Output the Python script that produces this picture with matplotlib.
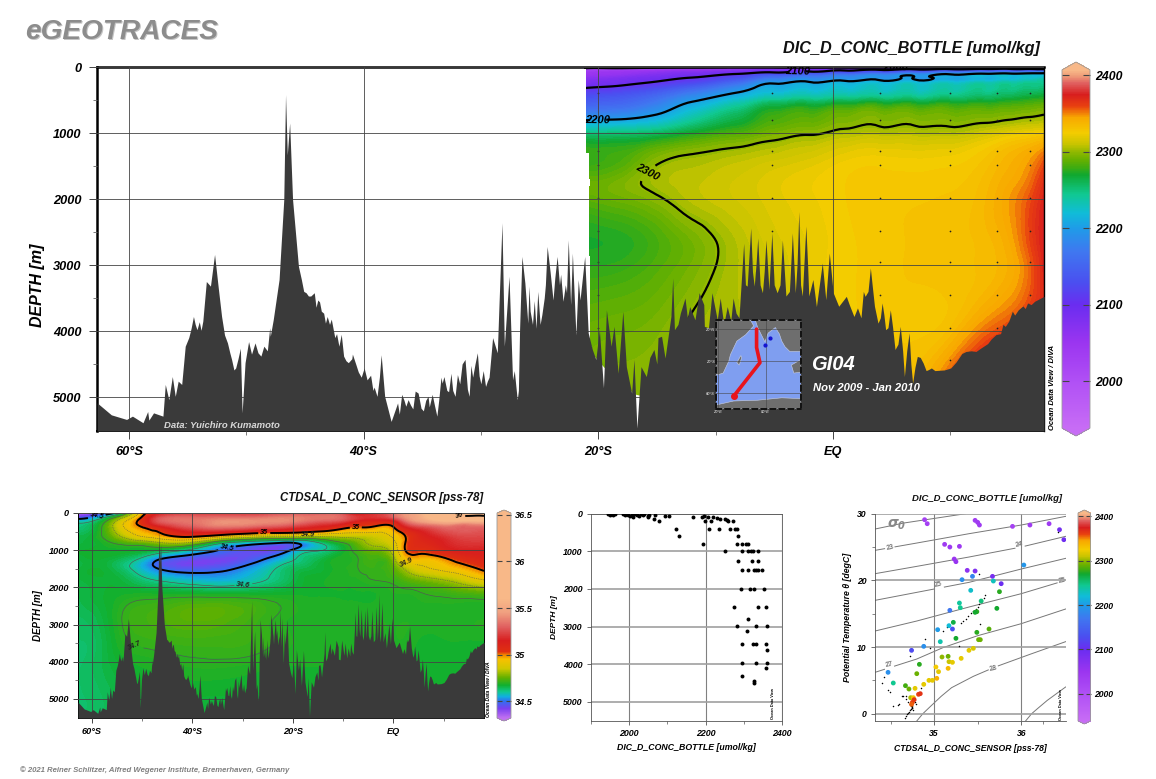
import matplotlib
matplotlib.use('Agg')
import matplotlib.pyplot as plt
import matplotlib.patheffects as pe
import matplotlib.tri as mtri
import numpy as np
from matplotlib.cm import ScalarMappable
from matplotlib.colors import LinearSegmentedColormap, Normalize
from matplotlib.patches import Polygon

W, H = 1156, 779

plt.rcParams['font.family'] = ['Liberation Sans', 'DejaVu Sans']
plt.rcParams['font.weight'] = 'bold'
plt.rcParams['font.style'] = 'italic'
plt.rcParams['axes.labelweight'] = 'bold'
plt.rcParams['mathtext.fontset'] = 'dejavusans'

# bottom topography along the section
bathy_lat = [-62.7, -61.5, -60.2, -59.7, -58.8, -58.4, -58.3, -57.9, -57.1, -56.9, -56.6, -56.3, -56.05, -55.8, -55.5,
             -55.2, -54.9, -54.5, -54.2, -53.7, -53.4, -53.05, -52.7, -52.4, -52.1, -51.6, -51.25, -50.9, -50.5, -50.35,
             -50.1, -49.8, -49.0, -48.5, -47.7, -47.2, -46.8, -46.65, -46.5, -46.3, -46.05, -45.55, -44.9, -43.9, -43.4,
             -42.9, -42.1, -41.3, -40.65, -39.7, -38.85, -38.5, -38.2, -37.65, -37.1, -36.75, -36.4, -35.6, -35.1, -34.15,
             -33.75, -33.15, -32.55, -32.2, -31.35, -31.0, -30.3, -29.6, -29.0, -28.6, -28.45, -28.2, -28.0, -27.6, -27.3,
             -26.9, -26.7, -26.5, -26.25, -26.0, -25.9, -25.6, -25.15, -24.95, -24.35, -23.85, -23.5, -23.0, -22.55, -22.2,
             -21.9, -21.55, -21.15, -20.85, -20.5, -20.2, -19.9, -19.55, -19.3, -18.9, -18.65, -18.3, -17.9, -17.6, -17.15,
             -16.95, -16.7, -16.35, -15.9, -15.25, -14.6, -14.3, -13.8, -13.65, -13.5, -13.0, -12.2, -11.75, -11.4, -10.95,
             -10.3, -9.85, -9.0, -8.25, -7.6, -7.3, -7.0, -6.7, -6.4, -6.0, -5.7, -5.45, -5.2, -4.75, -4.3,
             -4.0, -3.45, -3.2, -2.9, -2.6, -2.3, -2.05, -1.7, -1.4, -0.9, -0.6, -0.3, 0.03, 0.5, 1.15,
             1.8, 2.75, 3.2, 3.55, 3.85, 4.2, 4.5, 4.9, 5.3, 5.75, 6.1, 6.5, 6.8, 7.2, 7.7,
             8.15, 9.1, 10.05, 11.35, 12.6, 13.9, 14.7, 15.3, 15.8, 16.6, 17.2, 18.0]
bathy_depth = [5090, 5270, 5340, 5290, 5390, 5220, 5350, 5240, 5290, 4810, 5040, 4690, 4990, 4760, 4810,
               4230, 4100, 3780, 3980, 3850, 3250, 3320, 2840, 3320, 3780, 4180, 4430, 4560, 4260, 5240,
               4480, 4160, 4330, 4230, 3830, 3220, 2010, 420, 1330, 850, 2010, 3020, 3420, 3530, 3730,
               3900, 4230, 4480, 4510, 4740, 4990, 4360, 4990, 5370, 5090, 4960, 5140, 4910, 5170, 4960,
               5290, 4690, 4640, 4990, 4430, 4990, 4330, 4840, 4100, 4330, 3580, 2360, 4230, 3170, 4740,
               5040, 3980, 2870, 3270, 3880, 3320, 3900, 3400, 3900, 2720, 3530, 2870, 3550, 2620, 2820,
               4060, 3530, 2870, 4030, 4280, 4430, 3980, 4860, 3680, 4230, 3930, 4640, 3700, 4540, 4940,
               4430, 5470, 4540, 4690, 4280, 4080, 4410, 3780, 3200, 3980, 3730, 3630, 3830, 3420, 3930,
               3420, 3830, 3630, 3730, 2670, 3320, 2440, 3320, 2590, 3420, 2620, 3370, 2515, 3420, 2620,
               3470, 2515, 3420, 2190, 3470, 2410, 3470, 3220, 3630, 2970, 3525, 2820, 3420, 3625, 3475,
               3780, 3475, 3045, 3625, 3880, 3575, 3980, 3680, 4280, 3930, 4690, 4030, 4790, 4385, 4485,
               4585, 4595, 4560, 4310, 4260, 4055, 3930, 3700, 3680, 3575, 3550, 3475]
# finer jags picked off the rough stretches
jag_lat = [-48.2, -48.0, -44.5, -44.2, -43.6, -43.1, -42.6, -42.3, -41.7, -41.0, -40.2, -39.4, -39.1,
           -36.0, -34.7, -34.4, -33.4, -32.9, -32.4, -31.8, -31.6, -30.7, -30.5, -30.0, -29.8, -29.3,
           -25.8, -24.6, -24.1, -23.7, -23.3, -22.8, -22.35,
           -15.6, -15.0, -14.9, -13.2, -12.6, -12.4, -11.0, -10.6, -9.6, -9.3, -8.7, -8.5, -8.0,
           -7.45, -6.85, -6.55, -6.2, -5.85, -5.0, -4.5, -3.7, -3.05, -2.75, -2.15,
           1.4, 2.1, 2.4, 2.6, 3.0, 3.35, 4.05, 4.35, 4.7, 5.1, 5.55, 5.95, 6.3, 6.65, 7.0, 7.45, 7.95, 8.4, 8.7, 9.5,
           10.5, 11.0, 11.8, 12.2, 13.2, 13.5, 14.3, 14.5, 15.0, 15.5, 16.2, 16.4, 16.9,
           -54.7, -54.35, -54.0, -53.85, -51.85, -51.4, -51.05, -50.7, -49.55, -49.25, -48.75, -47.95,
           -45.3, -45.1, -44.7, -44.05, -43.75, -43.25, -42.75, -42.45, -41.9, -41.5, -40.95, -40.45, -39.95, -39.2, -38.65,
           -36.95, -36.55, -36.2, -35.8, -35.35, -34.9, -34.5, -33.95, -33.6, -33.3, -32.75, -32.0, -31.15, -30.85, -30.15, -29.45,
           -27.15, -26.8, -25.45, -25.3, -24.8, -24.5, -23.2, -22.7, -21.7]
jag_depth = [4300, 3950, 3470, 3420, 3700, 3780, 3960, 4040, 4380, 4420, 4700, 4670, 4850,
             5120, 5050, 5150, 4700, 4900, 4900, 4800, 4500, 4700, 4500, 4800, 4600, 4700,
             3700, 3500, 3100, 3200, 3300, 3300, 3600,
             4400, 4500, 4100, 3900, 3500, 3800, 3600, 3950, 3500, 3900, 3850, 3500, 3800,
             3300, 3100, 3000, 3300, 3100, 3300, 3300, 3400, 3000, 3300, 3000,
             3600, 3650, 3800, 3400, 3400, 3300, 3800, 3750, 3950, 3950, 4200, 4300, 4300, 4500, 4550, 4400, 4600, 4560, 4600, 4590,
             4470, 4340, 4300, 4310, 4190, 4120, 4040, 3900, 3850, 3760, 3620, 3660, 3600,
             3960, 3900, 3860, 3990, 4060, 4330, 4590, 4420, 4350, 4180, 4380, 4080,
             3220, 3400, 3470, 3640, 3560, 3880, 3820, 4100, 4050, 4450, 4350, 4620, 4560, 4900, 4700,
             5260, 5050, 5040, 5180, 4940, 5210, 4990, 5130, 5060, 4790, 4920, 4660, 4880, 4520, 4680, 4760,
             4600, 4900, 3540, 3960, 3750, 3300, 3140, 3420, 3220]

# DIC section, one list per latitude, same depths each
dic_depth = [0, 20, 60, 100, 160, 220, 320, 500, 800, 1000, 1400, 1700, 2000, 2600, 3000, 3500, 4000, 4500, 5000, 5515]
dic_lat = [-21.2, -18, -15, -12, -8, -5, -2, 1, 4, 7, 10, 13, 15, 16.8, 18]
dic_values = [
    [1990, 2000, 2030, 2045, 2060, 2075, 2100, 2135, 2198, 2250, 2278, 2288, 2286, 2272, 2275, 2284, 2290, 2293, 2295, 2295],
    [1990, 2002, 2040, 2055, 2075, 2088, 2110, 2145, 2202, 2250, 2282, 2293, 2291, 2274, 2277, 2286, 2292, 2296, 2298, 2298],
    [1990, 2010, 2050, 2070, 2088, 2100, 2125, 2165, 2215, 2256, 2297, 2304, 2298, 2282, 2284, 2290, 2295, 2298, 2300, 2300],
    [1995, 2020, 2062, 2082, 2100, 2115, 2148, 2195, 2240, 2270, 2303, 2308, 2307, 2293, 2293, 2298, 2302, 2304, 2306, 2306],
    [2000, 2030, 2075, 2098, 2125, 2150, 2185, 2225, 2265, 2283, 2308, 2313, 2313, 2307, 2306, 2306, 2306, 2308, 2310, 2310],
    [2000, 2040, 2085, 2115, 2160, 2190, 2210, 2245, 2282, 2293, 2312, 2318, 2318, 2315, 2313, 2312, 2312, 2314, 2315, 2315],
    [1995, 2050, 2095, 2130, 2175, 2198, 2216, 2250, 2287, 2298, 2316, 2322, 2322, 2320, 2320, 2320, 2320, 2320, 2320, 2320],
    [1995, 2055, 2105, 2145, 2185, 2204, 2222, 2255, 2294, 2304, 2322, 2326, 2326, 2325, 2325, 2325, 2325, 2325, 2325, 2325],
    [1995, 2060, 2115, 2160, 2192, 2208, 2226, 2258, 2296, 2306, 2324, 2327, 2328, 2328, 2328, 2328, 2328, 2330, 2332, 2332],
    [2000, 2070, 2125, 2175, 2198, 2212, 2230, 2258, 2296, 2306, 2323, 2327, 2329, 2330, 2330, 2329, 2329, 2332, 2336, 2336],
    [2005, 2075, 2135, 2190, 2205, 2218, 2236, 2262, 2295, 2306, 2324, 2328, 2330, 2331, 2331, 2330, 2334, 2350, 2362, 2362],
    [2015, 2080, 2140, 2198, 2212, 2225, 2242, 2265, 2297, 2312, 2330, 2334, 2336, 2335, 2334, 2338, 2353, 2372, 2380, 2380],
    [2025, 2085, 2140, 2202, 2218, 2232, 2247, 2270, 2300, 2318, 2338, 2342, 2346, 2343, 2340, 2346, 2362, 2380, 2380, 2380],
    [2035, 2085, 2140, 2205, 2222, 2238, 2250, 2275, 2303, 2322, 2346, 2352, 2358, 2360, 2355, 2358, 2372, 2380, 2380, 2380],
    [2045, 2085, 2140, 2205, 2225, 2240, 2252, 2278, 2305, 2325, 2356, 2366, 2372, 2375, 2372, 2370, 2378, 2380, 2380, 2380],
]

# edges of the gridded DIC field, white beyond them
edge_depth = [0, 25, 1300, 1700, 1800, 2870, 4230, 5515]
edge_lat = [-21.2, -21.0, -20.8, -20.7, -20.8, -20.7, -20.5, -20.5]
floor_lat = [-21.0, -20.5, -19.5, -18.0, -17.0, -15.8, -14.0]
floor_depth = [4300, 4350, 4550, 4750, 4950, 5000, 5000]

station_lat = [-20, -5.2, 4, 10, 14, 16.8]
station_depth = [395, 800, 1280, 1490, 1985, 2480, 2955, 3460, 3955, 4435]

# salinity section, one list per depth
sal_depth = [0, 100, 200, 400, 600, 800, 1000, 1250, 1500, 1800, 2200, 2800, 3500, 4200, 5000, 5515]
sal_lat = [-62.7, -58, -54, -50, -46, -40, -34, -28, -22, -18, -14, -10, -7, -4, 0, 2, 5, 10, 14, 18]
sal_values = [
    [34.35, 34.40, 34.60, 34.95, 35.15, 35.20, 35.20, 35.20, 35.25, 35.25, 35.25, 35.20, 35.05, 35.15, 35.30, 35.40, 35.50, 35.90, 36.05, 36.00],
    [34.42, 34.55, 34.75, 35.00, 35.25, 35.30, 35.30, 35.30, 35.35, 35.35, 35.35, 35.30, 35.20, 35.20, 35.30, 35.40, 35.50, 35.80, 35.95, 35.95],
    [34.55, 34.65, 34.85, 35.05, 35.30, 35.35, 35.40, 35.40, 35.40, 35.35, 35.30, 35.25, 35.15, 35.12, 35.15, 35.30, 35.45, 35.60, 35.60, 35.60],
    [34.62, 34.70, 34.88, 34.99, 35.10, 35.25, 35.30, 35.25, 35.20, 35.15, 35.10, 35.02, 34.99, 34.98, 34.99, 35.10, 35.20, 35.30, 35.30, 35.30],
    [34.65, 34.70, 34.82, 34.92, 34.98, 35.05, 34.98, 34.90, 34.88, 34.86, 34.85, 34.85, 34.85, 34.86, 34.92, 34.99, 35.10, 35.20, 35.25, 35.25],
    [34.66, 34.68, 34.72, 34.75, 34.80, 34.78, 34.62, 34.55, 34.50, 34.53, 34.62, 34.70, 34.76, 34.82, 34.88, 34.98, 35.08, 35.15, 35.20, 35.20],
    [34.67, 34.68, 34.68, 34.67, 34.65, 34.58, 34.49, 34.44, 34.46, 34.56, 34.60, 34.67, 34.72, 34.76, 34.84, 34.98, 35.04, 35.10, 35.15, 35.15],
    [34.66, 34.67, 34.64, 34.58, 34.49, 34.44, 34.43, 34.47, 34.56, 34.62, 34.66, 34.69, 34.70, 34.72, 34.78, 34.91, 34.95, 34.98, 35.05, 35.10],
    [34.66, 34.67, 34.63, 34.56, 34.49, 34.46, 34.48, 34.54, 34.62, 34.65, 34.67, 34.69, 34.70, 34.71, 34.74, 34.80, 34.87, 34.92, 34.96, 35.02],
    [34.66, 34.67, 34.66, 34.62, 34.59, 34.56, 34.55, 34.58, 34.63, 34.67, 34.68, 34.69, 34.69, 34.70, 34.71, 34.73, 34.76, 34.80, 34.85, 34.90],
    [34.65, 34.67, 34.68, 34.685, 34.685, 34.685, 34.68, 34.68, 34.68, 34.68, 34.68, 34.68, 34.68, 34.68, 34.69, 34.69, 34.695, 34.705, 34.715, 34.725],
    [34.64, 34.66, 34.70, 34.72, 34.73, 34.745, 34.74, 34.72, 34.695, 34.69, 34.69, 34.69, 34.69, 34.69, 34.69, 34.69, 34.69, 34.69, 34.69, 34.69],
    [34.63, 34.65, 34.69, 34.705, 34.71, 34.715, 34.715, 34.71, 34.695, 34.69, 34.69, 34.69, 34.69, 34.69, 34.69, 34.69, 34.68, 34.68, 34.68, 34.68],
    [34.63, 34.65, 34.67, 34.68, 34.685, 34.69, 34.69, 34.685, 34.68, 34.68, 34.68, 34.68, 34.68, 34.68, 34.68, 34.68, 34.68, 34.68, 34.68, 34.68],
    [34.63, 34.64, 34.66, 34.67, 34.67, 34.67, 34.67, 34.67, 34.67, 34.67, 34.67, 34.67, 34.67, 34.67, 34.67, 34.67, 34.67, 34.67, 34.67, 34.67],
    [34.63, 34.64, 34.65, 34.66, 34.66, 34.66, 34.66, 34.66, 34.66, 34.66, 34.66, 34.66, 34.66, 34.66, 34.66, 34.66, 34.66, 34.66, 34.66, 34.66],
]

# DIC against depth
bottle_dic = [1945, 1950, 1958, 1962, 1985, 1990, 1998, 2003, 2007, 2010, 2015, 2020, 2025, 2030, 2035, 2040, 2048, 2050,
              2052, 2065, 2068, 2078, 2095, 2103, 2168, 2190, 2195, 2198, 2205, 2210, 2215, 2220, 2230, 2235, 2238, 2250,
              2255, 2258, 2265, 2272, 2278, 2282, 2122, 2130, 2192, 2250, 2285, 2282, 2295, 2305, 2310, 2295, 2310, 2320,
              2325, 2337, 2285, 2322, 2338, 2294, 2310, 2326, 2332, 2338, 2347, 2292, 2316, 2327, 2352, 2274, 2336, 2357,
              2310, 2282, 2333, 2361, 2308, 2294, 2325, 2332, 2357, 2361, 2294, 2331, 2361, 2358, 2295, 2328, 2328]
bottle_depth = [10, 25, 30, 5, 15, 30, 40, 60, 40, 90, 20, 30, 50, 20, 40, 10, 50, 100,
                30, 140, 40, 200, 50, 50, 100, 90, 70, 190, 100, 400, 190, 100, 120, 400, 130, 150,
                160, 200, 400, 200, 400, 400, 400, 600, 800, 1000, 600, 800, 800, 800, 800, 1000, 1000, 1000,
                1000, 1000, 1250, 1250, 1250, 1500, 1500, 1500, 1500, 1500, 1500, 2000, 2000, 2000, 2000, 2490, 2490, 2490,
                2790, 2990, 2990, 2990, 3130, 3460, 3470, 3460, 3460, 3630, 3960, 3970, 3960, 4090, 4320, 4440, 4500]

# theta-S points coloured by DIC
ts_sal = [34.89, 34.92, 35.47, 35.50, 35.52, 35.90, 36.10, 36.32, 36.44, 36.49, 35.12, 35.18, 35.29, 35.23, 35.25, 35.38,
          35.47, 35.44, 35.32, 35.67, 35.68, 35.77, 36.03, 35.42, 35.75, 35.29, 35.30, 35.54, 35.72, 35.18, 35.49, 35.47,
          35.22, 35.17, 35.21, 35.04, 35.63, 35.49, 35.07, 35.25, 35.51, 35.53, 34.74, 34.88, 35.40, 35.45, 35.09, 35.16,
          35.17, 35.21, 35.31, 34.83, 35.02, 35.05, 35.16, 34.80, 34.47, 35.03, 34.94, 34.98, 34.53, 34.88, 34.67, 34.71,
          34.78, 34.82, 34.84, 34.73, 34.76, 34.77, 34.75, 34.74]
ts_theta = [29.1, 28.5, 29.0, 28.7, 28.3, 28.1, 28.3, 28.5, 27.6, 26.1, 25.4, 25.0, 25.1, 23.2, 22.8, 21.5,
            21.4, 20.6, 20.1, 20.6, 19.9, 19.5, 22.3, 18.5, 18.3, 16.6, 15.9, 16.9, 15.8, 15.5, 15.3, 15.2,
            13.7, 13.2, 12.7, 12.6, 12.7, 12.2, 10.8, 11.3, 11.1, 11.1, 9.5, 10.1, 9.5, 9.8, 8.5, 8.6,
            7.8, 7.7, 8.3, 7.4, 7.0, 6.3, 6.8, 6.0, 6.2, 5.3, 5.0, 5.0, 4.6, 4.4, 4.2, 3.7,
            3.8, 2.9, 3.0, 2.4, 2.4, 2.1, 1.7, 1.4]
ts_dic = [2030, 2030, 2035, 2040, 2040, 2025, 2040, 2040, 2090, 2095, 2040, 2045, 2045, 2050, 2055, 2065,
          2080, 2180, 2190, 2085, 2230, 2100, 2195, 2225, 2275, 2240, 2245, 2250, 2270, 2170, 2275, 2270,
          2265, 2220, 2130, 2200, 2285, 2275, 2235, 2270, 2290, 2290, 2125, 2190, 2320, 2315, 2300, 2290,
          2310, 2320, 2320, 2275, 2325, 2320, 2335, 2290, 2190, 2340, 2320, 2320, 2245, 2320, 2280, 2290,
          2320, 2360, 2365, 2305, 2330, 2365, 2360, 2355]

# theta-S samples without DIC
dots_sal = [34.42, 34.40, 34.47, 34.49, 34.53, 34.58, 34.60, 34.63, 34.68, 34.72, 34.75, 34.85, 34.90, 34.95, 35.10, 35.15,
            35.28, 35.31, 35.33, 35.36, 35.39, 35.42, 35.45, 35.48, 35.50, 35.52, 35.54, 35.57, 35.58, 35.52, 35.53, 36.42,
            34.64, 34.68, 34.70, 34.72, 34.73, 34.74, 34.75, 34.76, 34.77, 34.78, 34.79,
            34.67, 34.68, 34.69, 34.70, 34.71, 34.72, 34.73, 34.74, 34.75]
dots_theta = [5.5, 4.6, 3.6, 3.3, 1.1, 1.3, 1.4, 2.7, 2.6, 8.6, 9.6, 3.9, 11.2, 9.9, 12.4, 13.0,
              10.2, 13.6, 13.9, 14.2, 14.6, 15.1, 15.4, 15.7, 16.0, 16.4, 16.8, 17.3, 17.8, 21.0, 13.4, 27.3,
              2.6, 2.2, 1.8, 1.5, 1.2, 1.0, 0.8, 0.6, 2.0, 1.7, 1.5,
              -0.6, -0.4, -0.1, 0.1, 0.3, 0.5, 0.7, 0.9, 1.1]

# isopycnals
iso_sal = [[34.32, 34.65, 35.36],
           [34.32, 34.80, 35.40, 36.00, 36.51],
           [34.32, 34.80, 35.40, 36.00, 36.51],
           [34.32, 34.80, 35.40, 36.00, 36.51],
           [34.32, 34.80, 35.40, 36.00, 36.51],
           [34.32, 34.80, 35.10, 35.50, 36.00, 36.51],
           [34.80, 34.87, 34.95, 35.08, 35.20, 35.45, 35.70, 36.10, 36.51],
           [36.05, 36.12, 36.20, 36.30, 36.51]]
iso_theta = [[27.7, 28.6, 30.0],
             [24.5, 25.6, 27.0, 28.3, 29.6],
             [21.0, 22.1, 23.5, 25.0, 26.6],
             [17.0, 18.2, 19.7, 21.7, 23.3],
             [12.4, 13.9, 16.0, 18.0, 20.0],
             [6.2, 8.2, 9.9, 11.7, 13.5, 15.7],
             [-1.1, 0.0, 1.0, 2.6, 3.9, 5.6, 7.0, 8.9, 10.8],
             [-1.1, 0.0, 0.9, 2.0, 4.0]]
iso_label = ['23', '24', '25', '25', '27', '28']
iso_label_sal = [34.49, 35.98, 35.05, 36.47, 34.48, 35.68]
iso_label_theta = [24.9, 25.4, 19.3, 19.9, 7.3, 6.8]

# colour ramps
dic_cmap_values = [1939, 2000, 2050, 2100, 2130, 2170, 2200, 2220, 2245, 2270, 2280, 2290, 2300, 2310, 2325, 2345, 2360, 2375, 2390, 2400, 2407]
dic_cmap_colors = ['#c76cf5', '#b050f5', '#9b35f0', '#6a2df0', '#4a50f0', '#3f78f0', '#1f9be8', '#10bcd8', '#10c890',
                   '#10a830', '#40ac10', '#68b000', '#90b800', '#c8c400', '#f4cc00', '#f8a800', '#e84010', '#d81e1e',
                   '#e06060', '#f0a07a', '#f8b888']
sal_cmap_values = [34.32, 34.42, 34.5, 34.55, 34.6, 34.67, 34.75, 34.85, 34.95, 35.0, 35.03, 35.15, 35.3, 35.45, 35.6, 36.52]
sal_cmap_colors = ['#c070f0', '#7a40f0', '#3070f0', '#10b0e0', '#10c890', '#10b030', '#60b000', '#d0c800', '#f8c000',
                   '#f08000', '#e03010', '#d81e1e', '#e06060', '#f0a080', '#f8b888', '#f8b888']

# inset map outlines
map_track_lon = [68.6, 68.6, 72.8, 40.0]
map_track_lat = [20, -3, -22, -64]
map_dots_lon = [85, 79]
map_dots_lat = [8.6, 0]
map_land = [
    [(18, 31.4), (61, 31.4), (65, 24), (55, 13), (44, 5), (36, -12), (34, -20), (27, -35), (21, -37), (18, -37)],
    [(67, 31.4), (70, 22), (79, 4), (83, 15), (92, 22), (97, 14), (100, 5), (104, -2), (110, -8), (124, -8), (124, 31.4)],
    [(124, -18), (112, -25), (115, -35), (124, -34)],
    [(18, -75), (40, -70), (70, -69), (100, -66), (124, -67), (124, -80), (18, -80)],
    [(49, -13), (50, -16), (47, -25), (44, -22)],
]


def make_cmap(values, colors):
    lo, hi = values[0], values[-1]
    stops = [(v - lo) / (hi - lo) for v in values]
    return LinearSegmentedColormap.from_list('odv', list(zip(stops, colors)), N=512)


def box(x0, y0, x1, y1):
    return [x0 / W, 1 - y1 / H, (x1 - x0) / W, (y1 - y0) / H]


def smooth_grid(lat, depth, grid):
    # grid cells cut in two, then matplotlib's own refiner
    x, y = np.meshgrid(lat, depth)
    nx = len(lat)
    cells = []
    for j in range(len(depth) - 1):
        for i in range(nx - 1):
            a = j * nx + i
            cells.append([a, a + 1, a + nx])
            cells.append([a + 1, a + nx + 1, a + nx])
    tris = mtri.Triangulation(x.ravel(), y.ravel(), cells)
    return mtri.UniformTriRefiner(tris).refine_field(grid.ravel(), subdiv=3)


def section_axes(ax, size, lw_grid):
    ax.set_xlim(-62.72, 18)
    ax.set_ylim(5515, 0)
    ax.set_xticks([-60, -40, -20, 0])
    ax.set_xticklabels(['60°S', '40°S', '20°S', 'EQ'], fontsize=size)
    ax.set_xticks([-50, -30, -10, 10], minor=True)
    ax.set_yticks([0, 1000, 2000, 3000, 4000, 5000])
    ax.set_yticks([500, 1500, 2500, 3500, 4500], minor=True)
    ax.tick_params(axis='both', labelsize=size, length=6, width=0.7, color='#444444', pad=5)
    ax.tick_params(axis='both', which='minor', length=3, width=0.6, color='#666666')
    ax.grid(True, color='#444444', lw=lw_grid, zorder=4)
    ax.set_axisbelow(False)


def colorbar(box_px, cmap, lo, hi, ticks, labels, size, frac):
    cax = fig.add_axes(box(*box_px))
    cb = fig.colorbar(ScalarMappable(Normalize(lo, hi), cmap), cax=cax, extend='both', extendfrac=frac)
    cb.set_ticks(ticks)
    cb.set_ticklabels(labels)
    cb.outline.set_edgecolor('#999999')
    cb.outline.set_linewidth(0.6)
    cax.tick_params(axis='y', left=True, right=True, direction='in', length=size * 0.6, width=0.8,
                    color='#444444', labelsize=size, pad=size * 0.4)
    return cb


fig = plt.figure(figsize=(W / 100, H / 100), dpi=100, facecolor='white')

fig.text(26.5 / W, 1 - 40.5 / H, 'eGEOTRACES', fontsize=20.2, color='#c4c4c4')
fig.text(25 / W, 1 - 39 / H, 'eGEOTRACES', fontsize=20.2, color='#8c8c8c')
fig.text(20 / W, 1 - 772 / H, '© 2021 Reiner Schlitzer, Alfred Wegener Institute, Bremerhaven, Germany',
         fontsize=5.55, color='#808080')

# main DIC section
dic_cmap = make_cmap(dic_cmap_values, dic_cmap_colors)
dic_tri, dic_fine = smooth_grid(dic_lat, dic_depth, np.array(dic_values).T)
ax = fig.add_axes(box(97, 67, 1044, 431))
ax.tricontourf(dic_tri, dic_fine, levels=np.linspace(1939, 2407, 140), cmap=dic_cmap, extend='both', zorder=1)
cs = ax.tricontour(dic_tri, dic_fine, levels=[2000, 2100, 2200, 2300], colors='black', linewidths=1.6, zorder=1.4)
ax.clabel(cs, fmt='%d', fontsize=8, colors='black', inline_spacing=4,
          manual=[(5.4, 15), (-3, 75), (-20.0, 800), (-16, 1430)])
st_x, st_y = np.meshgrid(station_lat, station_depth)
ax.scatter(st_x.ravel(), st_y.ravel(), s=1.5, color='#222222', lw=0, zorder=1.5)
ax.fill_betweenx(edge_depth, -63, edge_lat, color='white', lw=0, step='post', zorder=2)
ax.fill_between(floor_lat, floor_depth, 5515, color='white', lw=0, zorder=2)
order = np.argsort(bathy_lat + jag_lat)
bathy_x = np.array(bathy_lat + jag_lat)[order]
bathy_y = np.array(bathy_depth + jag_depth)[order]
ax.fill_between(bathy_x, bathy_y, 5515, color='#3a3a3a', lw=0, zorder=3)
section_axes(ax, 9.2, 0.6)
ax.set_ylabel('DEPTH [m]', fontsize=11.5)
ax.yaxis.set_label_coords(-0.055, 0.40)
for side in ['left', 'top']:
    ax.spines[side].set_linewidth(1.8)
ax.spines['right'].set_linewidth(1.0)
ax.spines['bottom'].set_linewidth(1.4)
fig.text(1040 / W, 1 - 53 / H, 'DIC_D_CONC_BOTTLE [umol/kg]', fontsize=11.7, ha='right', color='#111111')
ax.text(-57, 5430, 'Data: Yuichiro Kumamoto', fontsize=6.8, color='#d8d8d8', va='center', zorder=5)
ax.text(-1.9, 4510, 'GI04', fontsize=14.5, color='white', va='center', zorder=5)
ax.text(-1.7, 4870, 'Nov 2009 - Jan 2010', fontsize=8.1, color='white', va='center', zorder=5)
fig.text(1052 / W, 1 - 430 / H, 'Ocean Data View / DIVA', fontsize=5.5, rotation=90, ha='center', va='bottom')
colorbar((1062, 62, 1090, 436), dic_cmap, 1939, 2407, [2000, 2100, 2200, 2300, 2400],
         ['2000', '2100', '2200', '2300', '2400'], 8.8, 0.022)

# inset map
inset = fig.add_axes(box(716, 320, 801, 409))
inset.set_facecolor('#7f9ef0')
inset.set_xlim(18, 124)
inset.set_ylim(-80, 31.4)
for pts in map_land:
    inset.add_patch(Polygon(pts, closed=True, facecolor='#6e6e6e', edgecolor='#c8d0e8', lw=0.4))
inset.plot(map_track_lon, map_track_lat, color='#e8141c', lw=2.6, solid_capstyle='round')
inset.plot(map_track_lon[-1], map_track_lat[-1], 'o', color='#e8141c', ms=4)
inset.plot(map_dots_lon, map_dots_lat, 'o', color='#1414d0', ms=2)
inset.grid(True, color='#444444', lw=0.4)
inset.set_xticks([20, 80])
inset.set_xticklabels(['20°E', '80°E'], fontsize=3, color='#bbbbbb')
inset.set_yticks([-60, -20, 20])
inset.set_yticklabels(['60°S', '20°S', '20°N'], fontsize=3, color='#bbbbbb')
inset.tick_params(length=0, pad=1)
for side in inset.spines.values():
    side.set_edgecolor('black')
    side.set_linewidth(1.3)
    side.set_linestyle((0, (3, 2)))
    side.set_path_effects([pe.Stroke(linewidth=1.3, foreground='#dddddd'), pe.Normal()])

# salinity section
sal_cmap = make_cmap(sal_cmap_values, sal_cmap_colors)
sal_tri, sal_fine = smooth_grid(sal_lat, sal_depth, np.array(sal_values))
ax2 = fig.add_axes(box(78, 513, 484, 718))
ax2.tricontourf(sal_tri, sal_fine, levels=np.linspace(34.32, 36.52, 220), cmap=sal_cmap, extend='both', zorder=1)
thick = ax2.tricontour(sal_tri, sal_fine, levels=[34.5, 35, 36], colors='black', linewidths=1.4, zorder=1.4)
thin = ax2.tricontour(sal_tri, sal_fine, levels=[34.6, 34.7], colors='#555555', linewidths=0.45, zorder=1.4)
dots = ax2.tricontour(sal_tri, sal_fine, levels=[34.8, 34.9], colors='#555555', linewidths=0.5,
                      linestyles=':', zorder=1.4)
ax2.clabel(thick, fmt='%g', fontsize=5.2, colors='black', inline_spacing=2,
           manual=[(-59, 80), (-33, 1030), (-25.7, 480), (-7.5, 25), (13, 130)])
ax2.clabel(thin, fmt='%g', fontsize=5.2, colors='#222222', inline_spacing=2, manual=[(-30, 1630), (-51.5, 3600)])
ax2.clabel(dots, fmt='%g', fontsize=5.2, colors='#222222', inline_spacing=2, manual=[(-17, 550), (2.7, 1320)])
ax2.fill_between(bathy_x, bathy_y, 5515, color='#3a3a3a', lw=0, zorder=3)
section_axes(ax2, 6.6, 0.6)
ax2.tick_params(axis='both', length=3.5, pad=3)
ax2.tick_params(axis='both', which='minor', length=2)
ax2.set_ylabel('DEPTH [m]', fontsize=7)
ax2.yaxis.set_label_coords(-0.085, 0.5)
for side in ax2.spines.values():
    side.set_linewidth(0.7)
ax2.spines['top'].set_color('#666666')
fig.text(483 / W, 1 - 501 / H, 'CTDSAL_D_CONC_SENSOR [pss-78]', fontsize=8.3, ha='right', color='#111111')
fig.text(488.5 / W, 1 - 717 / H, 'Ocean Data View / DIVA', fontsize=3.6, rotation=90, ha='center', va='bottom')
colorbar((497, 510, 511, 721), sal_cmap, 34.32, 36.52, [34.5, 35, 35.5, 36, 36.5],
         ['34.5', '35', '35.5', '36', '36.5'], 6.6, 0.015)

# DIC against depth
ax3 = fig.add_axes(box(591, 513.7, 782, 720.6))
ax3.scatter(bottle_dic, bottle_depth, s=8, color='black', lw=0, zorder=3)
ax3.set_xlim(1900, 2400)
ax3.set_ylim(5500, 0)
ax3.set_xticks([2000, 2200, 2400])
ax3.set_xticks([1900, 2100, 2300], minor=True)
ax3.set_yticks([0, 1000, 2000, 3000, 4000, 5000])
ax3.tick_params(axis='both', labelsize=6.4, length=3, width=0.6, pad=3, color='#555555')
ax3.tick_params(axis='x', which='minor', length=2, width=0.5, color='#555555')
ax3.grid(True, axis='y', color='#a0a0a0', lw=1.2, zorder=1)
ax3.grid(True, axis='x', color='#808080', lw=0.8, zorder=1)
ax3.set_xlabel('DIC_D_CONC_BOTTLE [umol/kg]', fontsize=6.3, labelpad=4)
ax3.set_ylabel('DEPTH [m]', fontsize=6, labelpad=4)
for side in ax3.spines.values():
    side.set_linewidth(0.6)
    side.set_color('#555555')
ax3.text(2376, 5450, 'Ocean Data View', fontsize=2.8, rotation=90, ha='center', va='bottom', style='normal')

# theta-S plot
ax4 = fig.add_axes(box(875, 513.7, 1065.6, 721))
for s, t in zip(iso_sal, iso_theta):
    ax4.plot(s, t, color='#777777', lw=0.7, zorder=1)
for txt, s, t in zip(iso_label, iso_label_sal, iso_label_theta):
    ax4.text(s, t, txt, fontsize=5, color='#777777', ha='center', va='center', style='normal', rotation=12,
             bbox=dict(facecolor='white', edgecolor='none', pad=0.6), zorder=1.5)
ax4.text(34.46, 28.4, r'$\sigma_0$', fontsize=10, color='#888888', ha='left', va='center', zorder=2)
ax4.scatter(dots_sal, dots_theta, s=1.2, color='black', lw=0, zorder=3)
ax4.scatter(ts_sal, ts_theta, c=ts_dic, s=12, cmap=dic_cmap, vmin=1939, vmax=2407, lw=0, zorder=4)
ax4.set_xlim(34.32, 36.51)
ax4.set_ylim(-1.1, 30)
ax4.set_xticks([35, 36])
ax4.set_xticks([34.5, 35.5, 36.25], minor=True)
ax4.set_yticks([0, 10, 20, 30])
ax4.set_yticks([5, 15, 25], minor=True)
ax4.tick_params(axis='both', labelsize=6.2, length=3, width=0.6, pad=3, color='#555555')
ax4.tick_params(axis='both', which='minor', length=2, width=0.5, color='#555555')
ax4.grid(True, axis='y', color='#a0a0a0', lw=1.2, zorder=0)
ax4.grid(True, axis='x', color='#808080', lw=0.8, zorder=0)
ax4.set_xlabel('CTDSAL_D_CONC_SENSOR [pss-78]', fontsize=6.2, labelpad=4)
ax4.set_ylabel('Potential Temperature θ [degC]', fontsize=6.3, labelpad=4)
for name, side in ax4.spines.items():
    side.set_linewidth(0.6)
    side.set_color('#555555')
ax4.spines['top'].set_visible(False)
ax4.spines['right'].set_visible(False)
ax4.text(36.46, -1, 'Ocean Data View', fontsize=2.8, rotation=90, ha='center', va='bottom', style='normal')
fig.text(1062 / W, 1 - 501 / H, 'DIC_D_CONC_BOTTLE [umol/kg]', fontsize=6.8, ha='right', color='#111111')
colorbar((1078, 510, 1090.5, 724), dic_cmap, 1939, 2407, [2000, 2100, 2200, 2300, 2400],
         ['2000', '2100', '2200', '2300', '2400'], 6.2, 0.015)

fig.savefig('out.png', dpi=100)
